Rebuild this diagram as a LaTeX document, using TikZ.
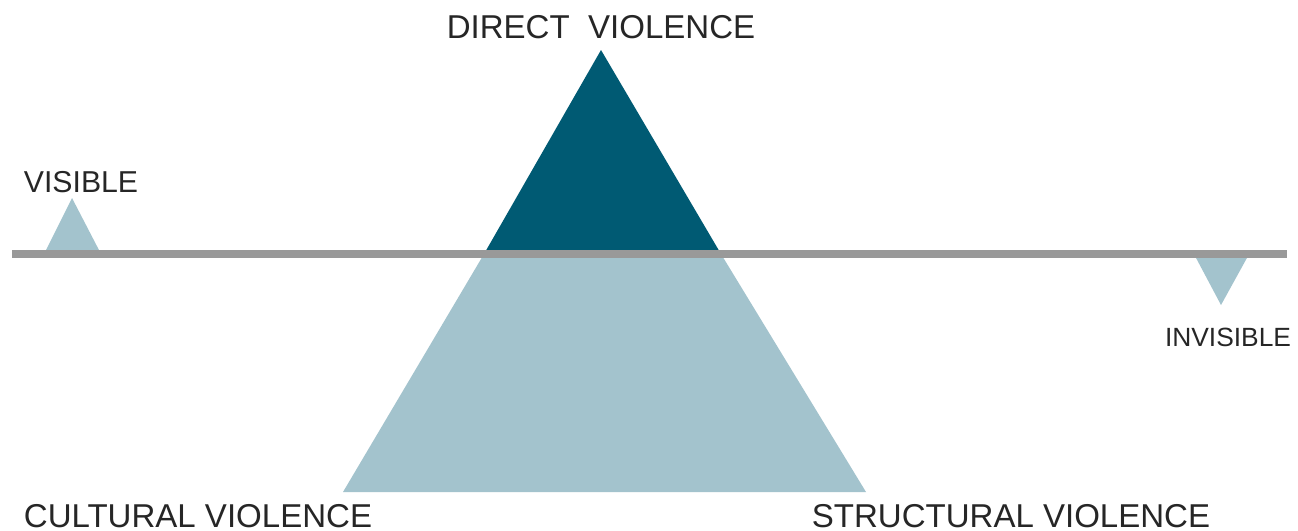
\documentclass[tikz,border=0pt]{standalone}
\usepackage{fontspec}
\setmainfont{Liberation Sans}
\definecolor{deepteal}{HTML}{005A73}
\definecolor{paleteal}{HTML}{A3C3CD}
\definecolor{waterline}{HTML}{999999}
\tikzset{
    label text/.style={inner sep=0pt,font=\fontsize{9.4}{11}\selectfont,text=black!85},
    small text/.style={label text,font=\fontsize{8.6}{10}\selectfont},
}
\begin{document}
\begin{tikzpicture}[x=0.1mm,y=-0.1mm]
    \useasboundingbox[fill=white] (0,0) rectangle (1298,530);
    % the big triangle, split at the water line
    \fill[paleteal] (484,254) -- (721,254) -- (866,492) -- (343,492) -- cycle;
    \fill[deepteal] (601,50) -- (721,254) -- (484,254) -- cycle;
    % the two small markers
    \fill[paleteal] (72,198) -- (100,252) -- (45,252) -- cycle;
    \fill[paleteal] (1195,256) -- (1248,256) -- (1221,305) -- cycle;
    \draw[waterline,line width=0.75mm] (12,254) -- (1287,254);
    \node[label text] (direct) at (601,27) {DIRECT\ \ VIOLENCE};
    \node[small text] (visible) at (81,182) {VISIBLE};
    \node[small text,font=\fontsize{7.5}{9}\selectfont] (invisible) at (1228,337) {INVISIBLE};
    \node[label text] (cultural) at (198,516) {CULTURAL VIOLENCE};
    \node[label text] (structural) at (1011,516) {STRUCTURAL VIOLENCE};
\end{tikzpicture}
\end{document}
